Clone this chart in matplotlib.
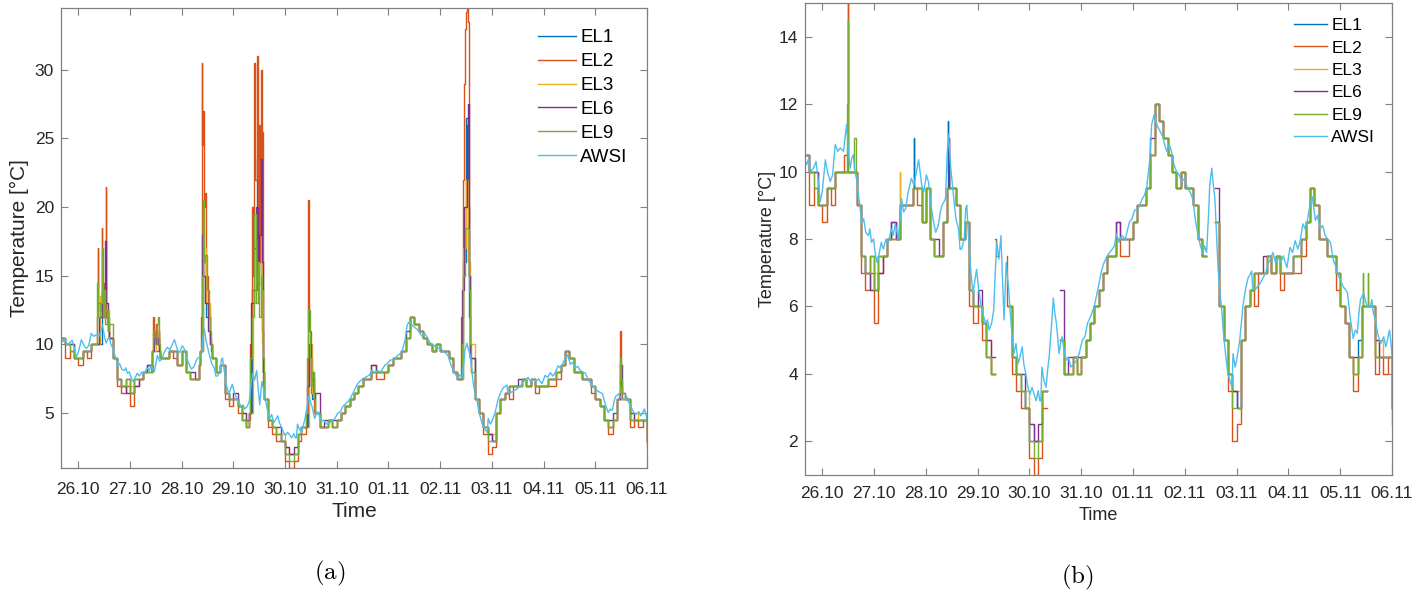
import numpy as np
import matplotlib
matplotlib.use("Agg")
import matplotlib.pyplot as plt
import matplotlib.dates as mdates
from datetime import datetime

nan = np.nan

# logger readings every 2 h, starting 25.10 16:00 (time in days after 26.10 00:00)
el_days = -1 / 3 + np.arange(137) / 12

el1 = [10.5, 10, 10, 9,
       9, 9.5, 9.5, 10, 10, 10, 10, 10,
       9, 7.5, 7, 7.5,
       6.5, 7.5, 7.5, 8, 8.5, 8, 9, 9,
       9, 9.5, 9.5, 8.5, 9.5, 8, 7.5, 7.5,
       8.5, 9.5, 9.5, 9, 8, 8.5, 6.5, 6,
       6, 5.5, 4.5, 4, nan, nan, nan, 6,
       4.5, 4, 3.5, 3, 2, 2, 2, 3.5,
       nan, nan, nan, 5, 4, 4, 4.5, 4,
       4.5, 5, 5.5, 6, 6.5, 7, 7.5, 7.5,
       8, 8, 8, 8, 8.5, 9, 9, 9.5,
       10.5, 12, 11.5, 11, 10.5, 10, 9.5, 10,
       9.5, 9.5, 9, 8, 7.5, nan, nan, 8.5,
       6, 5, 4, 3.5, 3, 5, 6, 6.5,
       7, 7, 7, 7.5, 7, 7.5, 7, 7,
       7, 7.5, 7.5, 8, 8.5, 9.5, 9, 8,
       8, 7.5, 7.5, 7, 6, 5.5, 4.5, 4,
       5, 6, 6, 6, 4.5, 4.5, 4.5, 4.5,
       3]

el2 = [10.5, 9, 9.5, 9,
       8.5, 9.5, 9, 10, 10, 10.5, 10, 10,
       9, 7, 6.5, 7,
       5.5, 7, 7.5, 8, 8, 8, 9, 9,
       9, 9.5, 9, 8.5, 9.5, 8, 7.5, 7.5,
       8.5, 9.5, 9.5, 9, 8, 8.5, 6, 5.5,
       6, 5, 4.5, 4, nan, nan, nan, 6,
       4, 3.5, 3, 3, 1.5, 1, 1.5, 3,
       nan, nan, nan, 5, 4, 4, 4.5, 4,
       4.5, 5, 5.5, 6, 6.5, 7, 7.5, 7.5,
       8.5, 7.5, 7.5, 8, 8.5, 9, 9, 9.5,
       10.5, 12, 11.5, 11, 10.5, 10, 9.5, 10,
       9.5, 9.5, 9, 8, 7.5, nan, nan, 8.5,
       6, 5, 3.5, 2, 2.5, 5, 6, 6.5,
       6, 7, 7, 7.5, 7, 7.5, 6.5, 7,
       7, 7, 7, 7.5, 8.5, 9.5, 9, 8,
       8, 7.5, 7.5, 6.5, 6, 5.5, 4.5, 3.5,
       4.5, 6, 6, 6, 4, 4.5, 4, 4.5,
       2.5]

el3 = [10.5, 10, 9.5, 9,
       9, 9.5, 9.5, 10, 10, 10, 10, 10,
       9, 7.5, 7, 7.5,
       7, 7.5, 7.5, 8, 8, 8, 9, 9,
       9, 9.5, 9.5, 8.5, 9.5, 8, 7.5, 7.5,
       8.5, 9.5, 9.5, 9, 8, 8.5, 6.5, 6,
       6, 5.5, 5, 4, nan, nan, nan, 6,
       4.5, 4, 3.5, 3.5, 2.5, 2, 2, 3.5,
       nan, nan, nan, 5, 4, 4, 4.5, 4,
       4.5, 5, 5.5, 6, 6.5, 7, 7.5, 7.5,
       8, 8, 8, 8, 8.5, 9, 9, 9.5,
       10.5, 12, 11.5, 11, 10.5, 10, 9.5, 10,
       9.5, 9.5, 9, 8, 7.5, nan, nan, 8.5,
       6, 5, 4, 3.5, 3.5, 5, 6, 6.5,
       7, 7, 7, 7.5, 7, 7.5, 7, 7,
       7, 7.5, 7.5, 8, 8.5, 9.5, 9, 8,
       8, 7.5, 7.5, 7, 6, 5.5, 4.5, 4,
       4.5, 6, 6, 6, 4.5, 5, 4.5, 4.5,
       3]

el6 = [10.5, 10, 10, 9,
       9, 9.5, 9.5, 10, 10, 10, 10, 10,
       9, 7.5, 7, 6.5,
       6.5, 7, 7.5, 8, 8.5, 8, 9, 9,
       9, 9.5, 9.5, 8.5, 9.5, 8, 8, 7.5,
       8.5, 9.5, 9.5, 9, 8, 8.5, 6.5, 6,
       6.5, 5.5, 5, 4.5, nan, nan, nan, 6,
       4.5, 4, 4, 3, 2.5, 2, 2.5, 3.5,
       nan, nan, nan, 6.5, 4, 4.5, 4.5, 4.5,
       4.5, 5, 5.5, 6, 6.5, 7, 7.5, 7.5,
       8.5, 8, 8, 8, 8.5, 9, 9, 9.5,
       11, 12, 11.5, 11, 10.5, 10, 9.5, 10,
       9.5, 9.5, 9, 8, 7.5, nan, nan, 9.5,
       6, 5, 4, 3.5, 3, 5, 6, 6.5,
       7, 7, 7.5, 7.5, 7, 7.5, 7, 7,
       7, 7.5, 7.5, 8, 8.5, 9.5, 9, 8,
       8, 7.5, 7.5, 7, 6, 5.5, 4.5, 4.5,
       4.5, 6, 6, 6, 5, 4.5, 4.5, 4.5,
       3]

el9 = [10.5, 10, 9.5, 9,
       9, 9.5, 9.5, 10, 10, 10, 10, 10,
       9, 7.5, 7, 7.5,
       6.5, 7.5, 7.5, 8, 8, 8, 9, 9,
       9, 9.5, 9.5, 8.5, 9.5, 8, 7.5, 7.5,
       8.5, 9.5, 9.5, 9, 8, 8.5, 6.5, 6,
       6, 5.5, 4.5, 4, nan, nan, nan, 6,
       4.5, 4, 3.5, 3, 2, 1.5, 2, 3.5,
       nan, nan, nan, 5, 4, 4, 4.5, 4,
       4.5, 5, 5.5, 6, 6.5, 7, 7.5, 7.5,
       8, 8, 8, 8, 8.5, 9, 9, 9.5,
       10.5, 12, 11.5, 11, 10.5, 10, 9.5, 10,
       9.5, 9.5, 9, 8, 7.5, nan, nan, 8.5,
       6, 5, 4, 3, 3, 5, 6, 6.5,
       7, 7, 7, 7.5, 7, 7.5, 7, 7,
       7, 7.5, 7.5, 8, 8.5, 9.5, 9, 8,
       8, 7.5, 7.5, 7, 6, 5.5, 4.5, 4,
       4.5, 6, 6, 6, 4.5, 4.5, 4.5, 4.5,
       3]

# short isolated readings kept in the cleaned data (day, temperature)
el1_glitch = [(1.77, 11), (1.775, 10.5), (1.78, 9.5), (2.43, 11.5), (2.435, 10), (2.44, 9.5)]
el2_glitch = [(0.49, 15.5), (0.495, 10), (3.34, 8), (3.345, 7.5), (3.56, 7.5), (3.565, 6)]
el3_glitch = [(1.50, 10), (1.505, 9)]
el6_glitch = [(2.44, 11), (2.445, 9.5)]
el9_glitch = [(0.48, 12), (0.49, 14.5), (0.495, 10), (0.62, 11), (0.65, 10),
              (10.44, 7), (10.445, 6), (10.54, 7), (10.545, 6)]

# raw readings during the warm events (day, temperature)
spike_windows = [(0.33, 0.62), (1.42, 1.58), (2.36, 2.58), (3.30, 3.58),
                 (4.30, 4.58), (7.38, 7.60), (10.45, 10.55)]

el1_spikes = [(0.33, 10), (0.45, 13), (0.52, 12), (0.60, 10.5),
              (1.42, 9.5), (1.57, 9.5),
              (2.36, 9.5), (2.41, 16), (2.47, 12), (2.55, 10),
              (3.30, 5), (3.36, 14), (3.45, 23.5), (3.48, 16), (3.53, 16.5), (3.56, 11), (3.57, 8),
              (4.30, 4), (4.45, 9), (4.52, 6),
              (7.38, 7.5), (7.44, 16), (7.50, 26.5), (7.53, 20), (7.56, 12), (7.58, 9),
              (10.45, 6), (10.52, 6)]
el2_spikes = [(0.33, 10), (0.36, 12), (0.38, 17), (0.39, 13), (0.42, 12.5), (0.45, 18.5),
              (0.46, 12), (0.50, 14.5), (0.52, 12), (0.53, 21.5), (0.545, 12), (0.57, 11), (0.60, 10.5),
              (1.42, 9.5), (1.44, 12), (1.46, 10.5), (1.50, 11.5), (1.53, 10), (1.56, 11), (1.57, 9.5),
              (2.36, 9.5), (2.38, 12), (2.39, 30.5), (2.40, 24.5), (2.42, 27), (2.43, 20),
              (2.46, 21), (2.47, 15), (2.50, 12.5), (2.54, 10.5), (2.57, 9.5),
              (3.30, 4.5), (3.33, 10), (3.36, 20), (3.38, 15), (3.40, 30.5), (3.42, 22), (3.45, 31),
              (3.47, 18), (3.49, 26), (3.51, 16), (3.53, 30), (3.545, 20), (3.55, 25.5),
              (3.565, 12), (3.575, 7),
              (4.30, 3.5), (4.40, 5), (4.44, 13), (4.45, 20.5), (4.47, 11), (4.50, 6.5), (4.54, 8), (4.56, 5),
              (7.38, 7.5), (7.41, 12), (7.44, 22), (7.46, 29), (7.48, 33), (7.50, 34.2), (7.52, 34.5),
              (7.535, 33.5), (7.55, 24), (7.56, 15), (7.58, 9), (7.59, 8),
              (10.45, 6), (10.48, 11), (10.49, 7), (10.52, 6)]
el3_spikes = [(0.33, 10), (0.42, 13.5), (0.50, 12.5), (0.60, 10.5),
              (1.42, 9.5), (1.50, 10.5), (1.57, 9.5),
              (2.36, 9.5), (2.41, 17), (2.47, 13), (2.55, 10),
              (3.30, 5), (3.38, 13), (3.43, 17.5), (3.48, 14.5), (3.53, 18), (3.56, 10), (3.57, 8),
              (4.30, 4), (4.46, 10), (4.52, 6.5),
              (7.38, 7.5), (7.45, 17), (7.50, 22), (7.54, 16), (7.57, 10),
              (10.45, 6), (10.52, 6)]
el6_spikes = [(0.33, 10), (0.40, 12), (0.45, 14), (0.48, 12), (0.52, 17.5), (0.54, 13), (0.58, 11), (0.60, 10.5),
              (1.42, 9.5), (1.46, 10.5), (1.50, 10), (1.55, 10.5), (1.57, 9.5),
              (2.36, 9.5), (2.40, 18), (2.42, 15), (2.46, 13), (2.50, 11), (2.55, 10),
              (3.30, 5), (3.35, 13), (3.40, 17), (3.44, 20), (3.47, 15), (3.50, 18), (3.53, 23.5),
              (3.55, 16), (3.57, 8),
              (4.30, 4), (4.42, 7), (4.46, 10), (4.50, 7.5), (4.55, 6),
              (7.38, 7.5), (7.43, 14), (7.47, 20), (7.52, 26), (7.54, 27.5), (7.56, 15), (7.58, 9),
              (10.45, 6), (10.48, 8.5), (10.51, 6.5)]
el9_spikes = [(0.33, 10), (0.37, 14.5), (0.39, 12), (0.42, 13), (0.45, 17), (0.47, 12), (0.50, 14),
              (0.52, 11.5), (0.55, 12.5), (0.58, 11), (0.60, 11.5),
              (1.42, 9.5), (1.45, 11), (1.48, 10), (1.52, 11.5), (1.55, 12), (1.57, 10),
              (2.36, 9.5), (2.39, 15), (2.41, 20.5), (2.43, 16), (2.46, 16.5), (2.49, 14), (2.52, 12),
              (2.55, 11), (2.57, 10),
              (3.30, 5), (3.33, 9), (3.36, 12), (3.40, 19.5), (3.43, 13), (3.47, 16), (3.50, 12),
              (3.53, 15), (3.56, 14), (3.57, 9),
              (4.30, 4), (4.40, 5), (4.43, 9), (4.45, 12.5), (4.48, 9), (4.51, 7), (4.53, 8), (4.56, 6),
              (7.38, 7.5), (7.42, 10), (7.45, 15), (7.48, 18.5), (7.53, 18.4), (7.55, 14), (7.57, 10), (7.59, 8),
              (10.45, 6.5), (10.47, 9), (10.49, 7.5), (10.52, 6.5)]

# AWSI reference station (day, temperature)
awsi = [(-0.37, 10.6), (-0.35, 10.4), (-0.30, 10.2), (-0.26, 10.4), (-0.22, 10.0), (-0.17, 10.1),
        (-0.12, 10.3), (-0.08, 9.8), (-0.04, 9.1), (0.0, 9.4), (0.06, 10.35), (0.10, 10.0),
        (0.155, 9.7), (0.20, 9.9), (0.25, 10.8), (0.30, 10.6), (0.35, 10.7), (0.41, 10.6),
        (0.44, 11.0), (0.47, 11.4), (0.51, 10.5), (0.54, 10.1), (0.57, 10.4), (0.60, 10.5),
        (0.63, 10.0), (0.66, 9.8), (0.70, 9.3), (0.74, 8.8), (0.76, 8.45), (0.80, 8.6),
        (0.84, 8.2), (0.89, 8.1), (0.92, 8.3), (0.95, 7.9), (0.99, 8.0), (1.02, 7.6),
        (1.06, 7.3), (1.09, 7.5), (1.14, 7.9), (1.18, 7.7), (1.23, 8.0), (1.28, 7.9),
        (1.33, 8.3), (1.37, 8.1), (1.41, 8.45), (1.47, 8.0), (1.53, 9.2), (1.57, 8.8),
        (1.61, 8.9), (1.66, 9.4), (1.72, 9.8), (1.77, 9.6), (1.82, 10.0), (1.86, 10.35),
        (1.92, 9.6), (1.96, 9.4), (2.01, 9.9), (2.05, 9.7), (2.10, 9.0), (2.15, 8.5),
        (2.19, 8.2), (2.24, 8.4), (2.28, 8.8), (2.31, 9.0), (2.35, 9.1), (2.38, 9.2),
        (2.41, 10.5), (2.44, 11.1), (2.47, 10.3), (2.50, 9.8), (2.54, 9.2), (2.58, 8.6),
        (2.63, 8.3), (2.66, 7.7), (2.69, 7.7), (2.74, 8.0), (2.77, 8.9), (2.79, 9.0),
        (2.83, 7.9), (2.87, 7.0), (2.91, 6.4), (2.95, 6.8), (2.98, 7.1), (3.02, 6.5),
        (3.06, 6.1), (3.10, 5.8), (3.15, 5.5), (3.19, 5.6), (3.22, 5.3), (3.27, 5.5),
        (3.31, 5.9), (3.34, 7.0), (3.37, 7.9), (3.41, 7.4), (3.45, 8.1), (3.48, 6.8),
        (3.51, 5.6), (3.55, 7.3), (3.58, 6.8), (3.60, 6.5), (3.63, 5.8), (3.66, 5.2),
        (3.70, 4.6), (3.74, 4.9), (3.78, 4.3), (3.80, 4.4), (3.83, 4.6), (3.86, 4.8),
        (3.89, 4.3), (3.93, 4.0), (3.97, 3.6), (4.01, 3.4), (4.05, 3.6), (4.09, 3.4),
        (4.13, 3.2), (4.17, 3.5), (4.20, 3.2), (4.22, 3.2), (4.24, 4.2), (4.28, 3.8),
        (4.32, 3.6), (4.35, 4.1), (4.38, 4.5), (4.42, 5.3), (4.46, 6.25), (4.49, 5.8),
        (4.52, 5.5), (4.55, 5.0), (4.57, 4.6), (4.60, 4.9), (4.63, 5.1), (4.67, 4.7),
        (4.71, 4.4), (4.75, 4.5), (4.80, 4.2), (4.86, 4.3), (4.91, 4.4), (4.96, 4.6),
        (5.02, 5.0), (5.07, 5.1), (5.12, 5.5), (5.18, 5.7), (5.25, 6.0), (5.32, 6.5),
        (5.39, 7.05), (5.44, 7.3), (5.50, 7.5), (5.55, 7.6), (5.60, 7.7), (5.64, 7.8),
        (5.68, 8.15), (5.73, 7.9), (5.78, 8.1), (5.85, 8.0), (5.93, 8.5), (5.98, 8.6),
        (6.03, 8.85), (6.10, 8.9), (6.18, 9.2), (6.22, 9.3), (6.26, 9.5), (6.32, 10.3),
        (6.36, 11.4), (6.41, 11.7), (6.44, 11.5), (6.47, 11.35), (6.52, 11.2), (6.57, 11.05),
        (6.61, 10.8), (6.65, 10.6), (6.70, 10.8), (6.74, 10.6), (6.79, 10.2), (6.84, 10.0),
        (6.89, 9.9), (6.94, 9.7), (7.00, 9.8), (7.05, 9.5), (7.10, 9.4), (7.15, 9.2),
        (7.20, 8.6), (7.25, 8.15), (7.30, 7.8), (7.35, 7.55), (7.38, 7.8), (7.42, 7.6),
        (7.46, 8.8), (7.48, 9.6), (7.52, 10.1), (7.55, 9.6), (7.58, 9.2), (7.61, 8.2),
        (7.64, 7.15), (7.67, 6.5), (7.71, 5.95), (7.74, 5.3), (7.77, 4.8), (7.80, 4.4),
        (7.83, 4.0), (7.87, 3.8), (7.91, 3.6), (7.93, 4.6), (7.97, 4.2), (8.00, 4.4),
        (8.03, 4.7), (8.06, 5.0), (8.09, 5.5), (8.12, 6.0), (8.17, 6.5), (8.22, 6.85),
        (8.26, 6.95), (8.29, 7.05), (8.31, 6.5), (8.36, 6.5), (8.41, 6.6), (8.46, 6.7),
        (8.51, 6.85), (8.56, 7.0), (8.60, 7.25), (8.65, 7.4), (8.70, 7.6), (8.75, 7.3),
        (8.80, 7.45), (8.85, 7.3), (8.90, 7.5), (8.94, 7.3), (8.97, 7.15), (9.03, 7.75),
        (9.08, 7.6), (9.13, 7.95), (9.18, 7.7), (9.22, 7.9), (9.28, 8.45), (9.32, 8.3),
        (9.36, 8.5), (9.42, 9.05), (9.46, 9.25), (9.52, 8.55), (9.56, 8.7), (9.61, 8.3),
        (9.66, 8.4), (9.71, 8.1), (9.76, 8.0), (9.81, 7.9), (9.87, 7.35), (9.91, 7.2),
        (9.95, 6.95), (10.0, 6.8), (10.05, 6.6), (10.10, 6.5), (10.14, 6.4), (10.19, 5.7),
        (10.25, 5.05), (10.29, 5.3), (10.33, 5.2), (10.36, 5.8), (10.39, 6.2), (10.45, 6.4),
        (10.50, 6.1), (10.53, 6.0), (10.58, 6.0), (10.61, 6.2), (10.64, 5.8), (10.68, 5.6),
        (10.72, 5.2), (10.78, 4.9), (10.84, 5.1), (10.88, 4.8), (10.91, 5.0), (10.95, 5.3),
        (10.98, 4.9), (11.0, 4.5)]

names = ["EL1", "EL2", "EL3", "EL6", "EL9", "AWSI"]
colors = ["#0072BD", "#D95319", "#EDB120", "#7E2F8E", "#77AC30", "#4DBEEE"]

loggers = [el1, el2, el3, el6, el9]
glitches = [el1_glitch, el2_glitch, el3_glitch, el6_glitch, el9_glitch]
spikes = [el1_spikes, el2_spikes, el3_spikes, el6_spikes, el9_spikes]

day0 = mdates.date2num(datetime(2019, 10, 26))


def merge(vals, extra, cut=()):
    d = np.asarray(el_days, float)
    v = np.asarray(vals, float)
    keep = np.ones(d.size, bool)
    for a, b in cut:
        keep &= ~((d >= a) & (d <= b))
    ed = np.array([p[0] for p in extra], float)
    ev = np.array([p[1] for p in extra], float)
    d = np.concatenate([d[keep], ed])
    v = np.concatenate([v[keep], ev])
    order = np.argsort(d, kind="stable")
    return day0 + d[order], v[order]


plt.rcParams["font.family"] = ["Liberation Sans", "DejaVu Sans"]
plt.rcParams["mathtext.fontset"] = "cm"

fig = plt.figure(figsize=(14.26, 5.97), dpi=100)
ax_a = fig.add_axes([0.0428, 0.216, 0.4109, 0.7706])
ax_b = fig.add_axes([0.5645, 0.2044, 0.4117, 0.7906])

awsi_x = day0 + np.array([p[0] for p in awsi])
awsi_y = np.array([p[1] for p in awsi])

# panel a: raw logger data, panel b: cleaned logger data
panels = [(ax_a, True, 12.5, 15, 10, 4, 4), (ax_b, False, 12.5, 13, 8, 4, 2)]
for ax, raw, tick_fs, label_fs, tpad, xpad, ypad in panels:
    for i in range(5):
        if raw:
            x, y = merge(loggers[i], spikes[i], spike_windows)
        else:
            x, y = merge(loggers[i], glitches[i])
        ax.plot(x, y, drawstyle="steps-post", color=colors[i], lw=1.0, label=names[i])
    ax.plot(awsi_x, awsi_y, color=colors[5], lw=1.0, label=names[5])

    ax.set_xlim(day0 - 1 / 3, day0 + 11)
    ax.xaxis.set_major_locator(mdates.DayLocator())
    ax.xaxis.set_major_formatter(mdates.DateFormatter("%d.%m"))
    ax.tick_params(direction="in", top=True, right=True, length=5, width=0.8,
                   color="#808080", labelcolor="#262626", labelsize=tick_fs)
    ax.tick_params(axis="x", pad=tpad)
    ax.tick_params(axis="y", pad=5)
    for sp in ax.spines.values():
        sp.set_color("#808080")
        sp.set_linewidth(0.9)
    ax.set_xlabel("Time", fontsize=label_fs, color="#262626", labelpad=xpad)
    ax.set_ylabel("Temperature [°C]", fontsize=label_fs, color="#262626", labelpad=ypad)

ax_a.set_ylim(1, 34.5)
ax_a.set_yticks([5, 10, 15, 20, 25, 30])
ax_b.set_ylim(1, 15)
ax_b.set_yticks([2, 4, 6, 8, 10, 12, 14])

ax_a.legend(loc="upper right", bbox_to_anchor=(0.98, 0.97), frameon=False, fontsize=13.5,
            handlelength=2.0, handletextpad=0.25, labelspacing=0.36, borderaxespad=0)
ax_b.legend(loc="upper right", bbox_to_anchor=(0.983, 0.983), frameon=False, fontsize=12.5,
            handlelength=1.9, handletextpad=0.25, labelspacing=0.42, borderaxespad=0)

fig.text(330 / 1426, 1 - 573 / 597, r"$\mathrm{(a)}$", fontsize=18, ha="center", va="center")
fig.text(1077 / 1426, 1 - 577 / 597, r"$\mathrm{(b)}$", fontsize=18, ha="center", va="center")

fig.savefig("out.png", dpi=100)
